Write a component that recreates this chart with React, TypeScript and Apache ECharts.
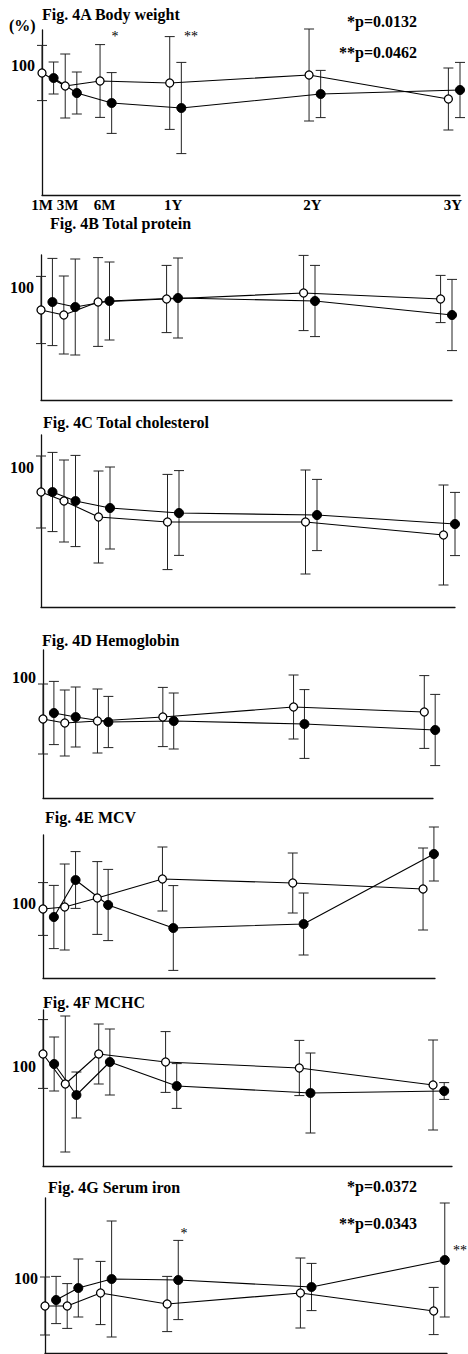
import React, { useEffect, useRef } from "react";
import * as echarts from "echarts";

// ---------- data ----------
const timeLabels = ["1M", "3M", "6M", "1Y", "2Y", "3Y"];
const months = [1, 3, 6, 12, 24, 36];
const xLabelPositions = [1, 3.2, 6.4, 12.3, 24.3, 36.4];
const filledOffset = 1; // filled group drawn one month to the right

// Fig. 4A Body weight (% of baseline, mean and SD)
const bodyWeightOpenMean = [98.0, 94.75, 96.0, 95.5, 97.5, 91.5];
const bodyWeightOpenSD = [6.9, 8.0, 9.1, 11.6, 11.5, 7.75];
const bodyWeightFilledMean = [96.75, 93.0, 90.5, 89.25, 92.75, 93.75];
const bodyWeightFilledSD = [4.0, 5.25, 7.6, 11.4, 5.9, 6.9];

// Fig. 4B Total protein
const proteinOpenMean = [94.25, 93.0, 96.25, 97.0, 98.5, 97.0];
const proteinOpenSD = [8.4, 9.75, 11.1, 8.4, 9.4, 5.9];
const proteinFilledMean = [96.25, 95.0, 96.5, 97.25, 96.5, 93.0];
const proteinFilledSD = [10.9, 12.0, 9.75, 10.0, 8.9, 8.9];

// Fig. 4C Total cholesterol
const cholOpenMean = [93.75, 91.5, 87.5, 86.25, 86.25, 83.0];
const cholOpenSD = [9.0, 10.25, 11.5, 11.9, 13.0, 12.5];
const cholFilledMean = [93.75, 91.5, 89.75, 88.5, 88.0, 85.75];
const cholFilledSD = [9.9, 11.4, 10.25, 10.6, 8.9, 7.9];

// Fig. 4D Hemoglobin
const hbOpenMean = [89.5, 88.5, 89.0, 90.0, 92.5, 91.25];
const hbOpenSD = [8.75, 8.25, 8.0, 7.4, 8.0, 9.1];
const hbFilledMean = [91.0, 90.0, 88.75, 89.0, 88.25, 86.75];
const hbFilledSD = [7.9, 7.5, 6.4, 7.0, 8.6, 8.9];

// Fig. 4E MCV
const mcvOpenMean = [98.5, 99.0, 101.25, 106.0, 105.0, 103.5];
const mcvOpenSD = [6.6, 10.75, 9.1, 8.0, 7.5, 10.25];
const mcvFilledMean = [96.5, 105.75, 99.5, 93.75, 94.75, 112.25];
const mcvFilledSD = [7.9, 7.1, 8.9, 10.6, 7.75, 6.75];

// Fig. 4F MCHC
const mchcOpenMean = [103.0, 95.5, 103.0, 101.0, 99.5, 95.25];
const mchcOpenSD = [8.6, 17.0, 7.5, 7.6, 6.9, 11.25];
const mchcFilledMean = [100.5, 92.75, 101.0, 95.0, 93.25, 93.75];
const mchcFilledSD = [6.75, 5.75, 8.25, 5.6, 10.0, 2.1];

// Fig. 4G Serum iron
const ironOpenMean = [93.0, 93.0, 96.25, 93.5, 96.25, 91.75];
const ironOpenSD = [7.25, 5.6, 7.9, 6.9, 8.75, 5.9];
const ironFilledMean = [94.5, 97.5, 99.75, 99.5, 97.75, 104.5];
const ironFilledSD = [5.9, 7.25, 14.5, 9.9, 5.9, 14.25];

const panelTitles = [
  "Fig. 4A Body weight",
  "Fig. 4B Total protein",
  "Fig. 4C Total cholesterol",
  "Fig. 4D Hemoglobin",
  "Fig. 4E MCV",
  "Fig. 4F MCHC",
  "Fig. 4G Serum iron",
];

const panelData = [
  [bodyWeightOpenMean, bodyWeightOpenSD, bodyWeightFilledMean, bodyWeightFilledSD],
  [proteinOpenMean, proteinOpenSD, proteinFilledMean, proteinFilledSD],
  [cholOpenMean, cholOpenSD, cholFilledMean, cholFilledSD],
  [hbOpenMean, hbOpenSD, hbFilledMean, hbFilledSD],
  [mcvOpenMean, mcvOpenSD, mcvFilledMean, mcvFilledSD],
  [mchcOpenMean, mchcOpenSD, mchcFilledMean, mchcFilledSD],
  [ironOpenMean, ironOpenSD, ironFilledMean, ironFilledSD],
];

const pValuesA = ["*p=0.0132", "**p=0.0462"];
const pValuesG = ["*p=0.0372", "**p=0.0343"];

// ---------- layout (px) ----------
const layouts = [
  { left: 42, right: 460, top: 30, bottom: 195, yMin: 67.5, yMax: 108.75, xMax: 37, tx: 42, ty: 14 },
  { left: 41, right: 452, top: 255, bottom: 400, yMin: 71.75, yMax: 108, xMax: 37, tx: 50, ty: 223 },
  { left: 41, right: 455, top: 435, bottom: 607, yMin: 65, yMax: 108, xMax: 37, tx: 43, ty: 422 },
  { left: 43, right: 433, top: 650, bottom: 798, yMin: 69.75, yMax: 106.75, xMax: 36.8, tx: 42, ty: 640 },
  { left: 43, right: 435, top: 835, bottom: 978, yMin: 81.25, yMax: 117, xMax: 37.1, tx: 45, ty: 817 },
  { left: 43, right: 452, top: 1010, bottom: 1166, yMin: 75, yMax: 114, xMax: 37.7, tx: 43, ty: 1002 },
  { left: 45, right: 447, top: 1198, bottom: 1353, yMin: 81.25, yMax: 120, xMax: 37.2, tx: 48, ty: 1187 },
];

const SERIF = "'Liberation Serif', 'Times New Roman', serif";

function errorBarRender(params: any, api: any) {
  const x = api.value(0);
  const m = api.value(1);
  const s = api.value(2);
  const top = api.coord([x, m + s]);
  const bot = api.coord([x, m - s]);
  const cw = 5;
  const st = { stroke: "#222", lineWidth: 1 };
  return {
    type: "group",
    children: [
      { type: "line", shape: { x1: top[0], y1: top[1], x2: bot[0], y2: bot[1] }, style: st },
      { type: "line", shape: { x1: top[0] - cw, y1: top[1], x2: top[0] + cw, y2: top[1] }, style: st },
      { type: "line", shape: { x1: bot[0] - cw, y1: bot[1], x2: bot[0] + cw, y2: bot[1] }, style: st },
    ],
  };
}

export default function App() {
  const ref = useRef<HTMLDivElement>(null);
  useEffect(() => {
    document.body.style.margin = "0";
    if (!ref.current) return;
    const chart = echarts.init(ref.current, undefined, { renderer: "svg" });

    const grid: any[] = [];
    const xAxis: any[] = [];
    const yAxis: any[] = [];
    const series: any[] = [];
    const graphic: any[] = [];

    layouts.forEach((L, i) => {
      grid.push({ left: L.left, top: L.top, width: L.right - L.left, height: L.bottom - L.top, containLabel: false });
      xAxis.push({
        type: "value",
        gridIndex: i,
        min: 1,
        max: L.xMax,
        position: "bottom",
        axisLine: { show: true, onZero: false, lineStyle: { color: "#111", width: 1.3 } },
        axisTick: { show: false },
        splitLine: { show: false },
        axisLabel:
          i === 0
            ? {
                show: true,
                customValues: xLabelPositions,
                margin: 2,
                color: "#000",
                fontFamily: SERIF,
                fontWeight: "bold",
                fontSize: 15,
                formatter: (v: number) => {
                  let best = 0;
                  xLabelPositions.forEach((p, k) => {
                    if (Math.abs(p - v) < Math.abs(xLabelPositions[best] - v)) best = k;
                  });
                  return timeLabels[best];
                },
              }
            : { show: false },
      });
      yAxis.push({
        type: "value",
        gridIndex: i,
        min: L.yMin,
        max: L.yMax,
        axisLine: { show: true, lineStyle: { color: "#111", width: 1.3 } },
        axisTick: { show: false },
        splitLine: { show: false },
        axisLabel: {
          show: true,
          customValues: [100],
          margin: 7,
          color: "#000",
          fontFamily: SERIF,
          fontWeight: "bold",
          fontSize: 16,
          formatter: () => "100",
        },
      });

      const [oMean, oSD, fMean, fSD] = panelData[i];
      const openPts = months.map((m, k) => [m, oMean[k], oSD[k]]);
      const filledPts = months.map((m, k) => [m + filledOffset, fMean[k], fSD[k]]);

      series.push({
        type: "custom",
        xAxisIndex: i,
        yAxisIndex: i,
        renderItem: errorBarRender,
        data: openPts,
        encode: { x: 0, y: 1 },
        z: 1,
        silent: true,
      });
      series.push({
        type: "custom",
        xAxisIndex: i,
        yAxisIndex: i,
        renderItem: errorBarRender,
        data: filledPts,
        encode: { x: 0, y: 1 },
        z: 1,
        silent: true,
      });
      series.push({
        type: "line",
        xAxisIndex: i,
        yAxisIndex: i,
        data: filledPts.map((p) => [p[0], p[1]]),
        symbol: "circle",
        symbolSize: 9,
        clip: false,
        lineStyle: { color: "#000", width: 1.1 },
        itemStyle: { color: "#000", borderColor: "#000", borderWidth: 1 },
        z: 3,
        silent: true,
      });
      series.push({
        type: "line",
        xAxisIndex: i,
        yAxisIndex: i,
        data: openPts.map((p) => [p[0], p[1]]),
        symbol: "circle",
        symbolSize: 8,
        clip: false,
        lineStyle: { color: "#000", width: 1.1 },
        itemStyle: { color: "#fff", borderColor: "#000", borderWidth: 1.3 },
        z: 4,
        silent: true,
      });

      graphic.push({
        type: "text",
        x: L.tx,
        y: L.ty,
        style: {
          text: panelTitles[i],
          fill: "#000",
          font: `bold 16px ${SERIF}`,
          textAlign: "left",
          textVerticalAlign: "middle",
        },
      });
    });

    const addText = (text: string, x: number, y: number, align: string, font: string, fill = "#000") => {
      graphic.push({
        type: "text",
        x,
        y,
        style: { text, fill, font, textAlign: align, textVerticalAlign: "middle" },
      });
    };

    addText("(%)", 9, 25, "left", `bold 16px ${SERIF}`);
    addText(pValuesA[0], 417, 21, "right", `bold 16px ${SERIF}`);
    addText(pValuesA[1], 417, 52, "right", `bold 16px ${SERIF}`);
    addText("*", 115, 36, "center", `14px ${SERIF}`);
    addText("**", 191, 36, "center", `14px ${SERIF}`);
    addText(pValuesG[0], 417, 1186, "right", `bold 16px ${SERIF}`);
    addText(pValuesG[1], 417, 1223, "right", `bold 16px ${SERIF}`);
    addText("*", 184, 1233, "center", `14px ${SERIF}`);
    addText("**", 467, 1250, "right", `14px ${SERIF}`);

    chart.setOption({
      animation: false,
      backgroundColor: "#fff",
      grid,
      xAxis,
      yAxis,
      series,
      graphic,
    });
    return () => chart.dispose();
  }, []);
  return <div ref={ref} style={{ width: 468, height: 1354 }} />;
}
